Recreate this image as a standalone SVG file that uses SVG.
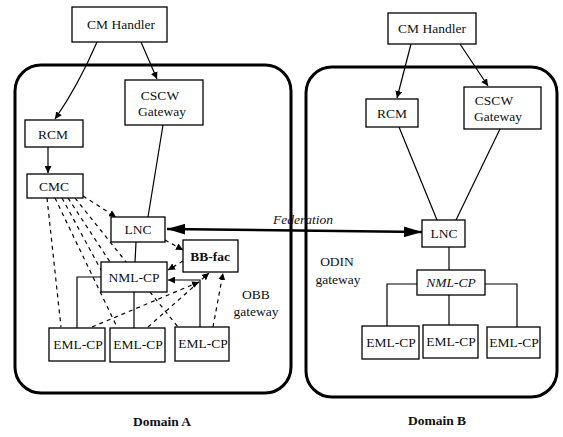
<svg xmlns="http://www.w3.org/2000/svg" width="563" height="437" viewBox="0 0 563 437">
<style>
.dom{fill:none;stroke:#000;stroke-width:3}
.box{fill:#fff;stroke:#000;stroke-width:1.3}
.t{font-size:13.5px;fill:#111;text-anchor:middle}
.ln{fill:none;stroke:#000;stroke-width:1.2}
.ds{fill:none;stroke:#000;stroke-width:1.2;stroke-dasharray:4 4}
.fed{fill:none;stroke:#000;stroke-width:2.5}
</style>
<defs>
<marker id="a" viewBox="0 0 10 10" refX="10" refY="5" markerWidth="7" markerHeight="7" markerUnits="userSpaceOnUse" orient="auto"><path d="M0,0 L10,5 L0,10 z" fill="#000"/></marker>
<marker id="f" viewBox="0 0 20 12" refX="20" refY="6" markerWidth="18" markerHeight="11" markerUnits="userSpaceOnUse" orient="auto-start-reverse"><path d="M0,0 L20,6 L0,12 z" fill="#000"/></marker>
</defs>
<rect fill="#fff" width="563" height="437"/>
<rect class="dom" x="15" y="65" width="276" height="328" rx="26"/>
<rect class="dom" x="306" y="67" width="251" height="330" rx="26"/>
<g id="connectors">
<path class="ln" d="M97,42 Q78,86 55,119" marker-end="url(#a)"/>
<path class="ln" d="M141,42 L157,79" marker-end="url(#a)"/>
<path class="ln" d="M48,147 L48,173" marker-end="url(#a)"/>
<path class="ln" d="M163,125 L148,217"/>
<path class="ln" d="M136,242 L135,262"/>
<path class="ln" d="M101,277 H77 V328"/>
<path class="ln" d="M134,292 V328"/>
<path class="ln" d="M200,327 V280 H168" marker-end="url(#a)"/>
<path class="ds" d="M83,196 L116,217" marker-end="url(#a)"/>
<path class="ds" d="M47,198 L61,327"/>
<path class="ds" d="M55,198 L117,327"/>
<path class="ds" d="M62,198 L101,270"/>
<path class="ds" d="M68,198 L110,262"/>
<path class="ds" d="M75,198 L178,327"/>
<path class="ds" d="M165,240 L183,250" marker-end="url(#a)"/>
<path class="ds" d="M183,261 L168,270" marker-end="url(#a)"/>
<path class="ds" d="M92,327 L199,282" marker-end="url(#a)"/>
<path class="ds" d="M148,327 L209,273" marker-end="url(#a)"/>
<path class="ds" d="M213,327 L223,273" marker-end="url(#a)"/>
<path class="fed" d="M167,229 L422,232" marker-start="url(#f)" marker-end="url(#f)"/>
<path class="ln" d="M411,44 L397,98" marker-end="url(#a)"/>
<path class="ln" d="M460,44 L488,86" marker-end="url(#a)"/>
<path class="ln" d="M399,127 L437,220"/>
<path class="ln" d="M500,129 L456,220"/>
<path class="ln" d="M449,247 V270"/>
<path class="ln" d="M417,284 H387 V326"/>
<path class="ln" d="M449,295 V325"/>
<path class="ln" d="M485,284 H517 V327"/>
</g>
<g font-family="Liberation Serif, Times New Roman, DejaVu Serif, serif">
<g id="cmA"><rect class="box" x="72" y="7" width="95" height="35"/><text class="t" x="121" y="29">CM Handler</text></g>
<g id="cscwA"><rect class="box" x="125" y="80" width="78" height="45"/><text class="t" x="160" y="100">CSCW</text><text class="t" x="162" y="116">Gateway</text></g>
<g id="rcmA"><rect class="box" x="25" y="120" width="58" height="27"/><text class="t" x="53" y="139">RCM</text></g>
<g id="cmc"><rect class="box" x="27" y="174" width="56" height="24"/><text class="t" x="54" y="191">CMC</text></g>
<g id="lncA"><rect class="box" x="111" y="217" width="54" height="25"/><text class="t" x="138" y="234">LNC</text></g>
<g id="bbfac"><rect class="box" x="183" y="240" width="55" height="32"/><text class="t" x="210" y="261" font-weight="bold">BB-fac</text></g>
<g id="nmlA"><rect class="box" x="101" y="262" width="66" height="30"/><text class="t" x="134" y="282">NML-CP</text></g>
<g id="emlA1"><rect class="box" x="49" y="328" width="56" height="33"/><text class="t" x="78" y="349">EML-CP</text></g>
<g id="emlA2"><rect class="box" x="110" y="328" width="55" height="34"/><text class="t" x="138" y="349">EML-CP</text></g>
<g id="emlA3"><rect class="box" x="175" y="327" width="54" height="34"/><text class="t" x="203" y="348">EML-CP</text></g>
<g id="obb"><text class="t" x="256" y="299">OBB</text><text class="t" x="256" y="316">gateway</text></g>
<g id="fedLabel"><text class="t" x="303" y="224" font-style="italic" font-size="13">Federation</text></g>
<g id="cmB"><rect class="box" x="388" y="13" width="88" height="31"/><text class="t" x="432" y="33">CM Handler</text></g>
<g id="rcmB"><rect class="box" x="366" y="99" width="52" height="28"/><text class="t" x="392" y="118">RCM</text></g>
<g id="cscwB"><rect class="box" x="464" y="87" width="77" height="42"/><text class="t" x="494" y="105">CSCW</text><text class="t" x="498" y="121">Gateway</text></g>
<g id="lncB"><rect class="box" x="422" y="220" width="43" height="27"/><text class="t" x="444" y="238">LNC</text></g>
<g id="nmlB"><rect class="box" x="417" y="270" width="68" height="25"/><text class="t" x="451" y="287" font-style="italic">NML-CP</text></g>
<g id="emlB1"><rect class="box" x="362" y="326" width="57" height="33"/><text class="t" x="391" y="347">EML-CP</text></g>
<g id="emlB2"><rect class="box" x="423" y="325" width="55" height="33"/><text class="t" x="451" y="346">EML-CP</text></g>
<g id="emlB3"><rect class="box" x="487" y="327" width="53" height="31"/><text class="t" x="514" y="347">EML-CP</text></g>
<g id="odin"><text class="t" x="337" y="266">ODIN</text><text class="t" x="338" y="284">gateway</text></g>
<g id="labels"><text class="t" x="162" y="426" font-weight="bold" font-size="14.5">Domain A</text><text class="t" x="437" y="425" font-weight="bold" font-size="14.5">Domain B</text></g>
</g>
</svg>
